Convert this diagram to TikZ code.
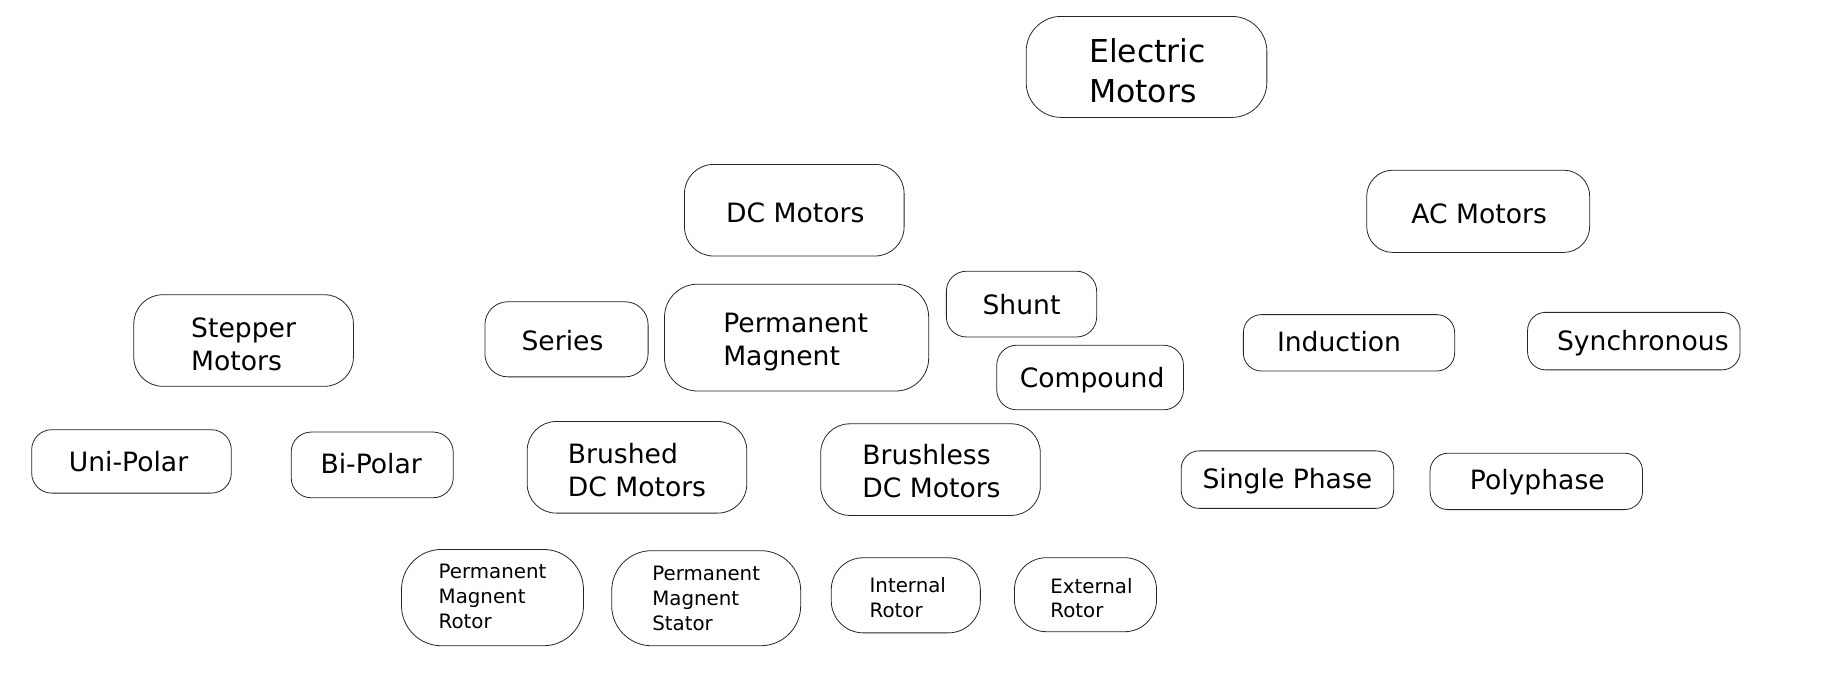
\documentclass[tikz,border=0pt]{standalone}
\usepackage{fontspec}
\setmainfont{DejaVu Sans}
\begin{document}
\begin{tikzpicture}[x=1pt,y=-1pt,
  bx/.style n args={3}{draw=black!85, line width=0.8pt, fill=white,
    inner sep=0pt, minimum width=#1pt, minimum height=#2pt, rounded corners=#3pt},
  lbl/.style={align=left, inner sep=0pt},
  big/.style={lbl, font=\fontsize{31.5}{40}\selectfont},
  med/.style={lbl, font=\fontsize{26.6}{33}\selectfont},
  sml/.style={lbl, font=\fontsize{19.8}{24.8}\selectfont}]
\useasboundingbox (0,0) rectangle (1841,681);
% boxes
\node[bx={240.7}{101}{35}] (em) at (1146.5,66.9) {};
\node[bx={219.6}{91.6}{29}] (dc) at (794.3,210.2) {};
\node[bx={223}{82.2}{26}] (ac) at (1478.2,211.3) {};
\node[bx={219.6}{91.6}{29}] (stepper) at (243.6,340.5) {};
\node[bx={163.2}{75.1}{23}] (series) at (566.5,339.3) {};
\node[bx={264.2}{106.8}{33}] (pm) at (796.6,337.6) {};
\node[bx={150.3}{65.7}{20}] (shunt) at (1021.5,304.1) {};
\node[bx={186.7}{64.6}{20}] (compound) at (1090.1,377.5) {};
\node[bx={211.3}{56.4}{18}] (induction) at (1349.0,342.8) {};
\node[bx={212.5}{57.5}{18}] (sync) at (1633.8,341.1) {};
\node[bx={199.6}{63.4}{20}] (uni) at (131.5,461.4) {};
\node[bx={162}{65.7}{20}] (bi) at (372.2,464.9) {};
\node[bx={219.6}{91.6}{29}] (brushed) at (637.0,467.3) {};
\node[bx={219.6}{91.6}{29}] (brushless) at (930.5,469.6) {};
\node[bx={212.5}{57.5}{18}] (single) at (1287.4,479.6) {};
\node[bx={212.5}{56.4}{18}] (poly) at (1536.3,481.4) {};
\node[bx={182}{96.3}{40}] (pmrotor) at (492.5,597.6) {};
\node[bx={189}{95.1}{40}] (pmstator) at (706.2,598.2) {};
\node[bx={149.1}{75.1}{32}] (internal) at (905.8,595.3) {};
\node[bx={142.1}{74}{32}] (external) at (1085.5,594.7) {};
% labels
\node[big] (emT) at ([shift={(1,4)}]em.center) {Electric\\Motors};
\node[med] (dcT) at ([shift={(1,2.3)}]dc.center) {DC Motors};
\node[med] (acT) at ([shift={(1,2.3)}]ac.center) {AC Motors};
\node[med] (stepperT) at ([shift={(0,4)}]stepper.center) {Stepper\\Motors};
\node[med] (seriesT) at ([shift={(-4,1.2)}]series.center) {Series};
\node[med] (pmT) at ([shift={(-1,4)}]pm.center) {Permanent\\Magnent};
\node[med] (shuntT) at ([shift={(0,0.5)}]shunt.center) {Shunt};
\node[med] (compoundT) at ([shift={(2,2.3)}]compound.center) {Compound};
\node[med] (inductionT) at ([shift={(-10,-1)}]induction.center) {Induction};
\node[med] (syncT) at ([shift={(9,2.3)}]sync.center) {Synchronous};
\node[med] (uniT) at ([shift={(-3,0)}]uni.center) {Uni-Polar};
\node[med] (biT) at ([shift={(-1,-1)}]bi.center) {Bi-Polar};
\node[med] (brushedT) at ([shift={(0,2.5)}]brushed.center) {Brushed\\DC Motors};
\node[med] (brushlessT) at ([shift={(1,1.2)}]brushless.center) {Brushless\\DC Motors};
\node[med] (singleT) at ([shift={(0,1.2)}]single.center) {Single Phase};
\node[med] (polyT) at ([shift={(1,1.2)}]poly.center) {Polyphase};
\node[sml] (pmrotorT) at ([shift={(0,-1)}]pmrotor.center) {Permanent\\Magnent\\Rotor};
\node[sml] (pmstatorT) at ([shift={(0,0)}]pmstator.center) {Permanent\\Magnent\\Stator};
\node[sml] (internalT) at ([shift={(2,2.3)}]internal.center) {Internal\\Rotor};
\node[sml] (externalT) at ([shift={(6,3.5)}]external.center) {External\\Rotor};
\end{tikzpicture}
\end{document}
